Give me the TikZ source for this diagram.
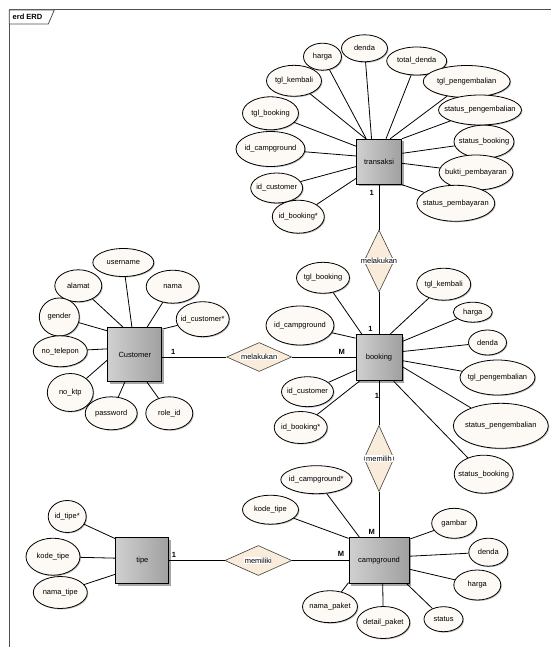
\documentclass[tikz,border=0pt]{standalone}
\usepackage{fontspec}
\setmainfont{Liberation Sans}
\usetikzlibrary{shapes.geometric,shadows}

\definecolor{attrfill}{RGB}{253,249,244}
\definecolor{relfill}{RGB}{250,236,218}
\definecolor{entleft}{RGB}{208,208,208}
\definecolor{entright}{RGB}{160,160,160}
\definecolor{framegray}{RGB}{80,80,80}

\newcommand{\ctext}[1]{\makebox[0pt][c]{#1}}
\newcommand{\rtext}[1]{\makebox[0pt][c]{\setlength{\fboxsep}{0.6pt}\colorbox{white}{#1}}}

\tikzset{
  attr/.style 2 args={ellipse, draw=black, line width=0.8pt, fill=attrfill, inner sep=0pt,
    minimum width=#1pt, minimum height=#2pt,
    general shadow={fill=black!25, shadow xshift=1pt, shadow yshift=-1pt}},
  ent/.style 2 args={rectangle, draw=black, line width=0.9pt, left color=entleft, right color=entright,
    inner sep=0pt, minimum width=#1pt, minimum height=#2pt,
    general shadow={fill=black!35, shadow xshift=2pt, shadow yshift=-2pt}},
  rel/.style 2 args={diamond, draw=black!75, line width=0.6pt, fill=relfill, inner sep=0pt,
    minimum width=#1pt, minimum height=#2pt},
  card/.style={font=\fontsize{7.5}{9}\selectfont\bfseries, inner sep=0pt},
  link/.style={line width=0.8pt}
}

\begin{document}
\begin{tikzpicture}[x=1pt, y=-1pt, font=\fontsize{7.5}{9}\selectfont]
  \useasboundingbox (0,0) rectangle (551,647);

  % frame
  \draw[framegray, line width=1pt] (9.3,647) -- (9.3,10) -- (551,10);
  \draw[framegray, fill=white, line width=0.8pt] (9.3,10) -- (54.3,10) -- (48.3,24) -- (9.3,24) -- cycle;
  \node[font=\fontsize{7.5}{9}\selectfont\bfseries, anchor=west, inner sep=0pt] (frametitle) at (12.5,17) {erd ERD};

  % entities
  \node[ent={45}{45}] (trans)   at (379,161.7) {transaksi};
  \node[ent={46}{46}] (booking) at (379,357.8) {booking};
  \node[ent={54}{54}] (cust)    at (134.8,354.7) {Customer};
  \node[ent={60}{46}] (camp)    at (379,560.5) {campground};
  \node[ent={53}{46}] (tipe)    at (142.3,560.5) {tipe};

  % relationships
  \node[rel={30}{62}] (rel_tb) at (379,261)   {\rtext{melakukan}};
  \node[rel={65}{29}] (rel_cb) at (259.2,357) {\rtext{melakukan}};
  \node[rel={30}{66}] (rel_bc) at (379,458.5) {\rtext{memilih}};
  \node[rel={67}{30}] (rel_tc) at (258.3,560.5) {\rtext{memiliki}};

  \draw[link] (trans) -- (rel_tb);
  \draw[link] (rel_tb) -- (booking);
  \draw[link] (booking) -- (rel_bc);
  \draw[link] (rel_bc) -- (camp);
  \draw[link] (rel_cb.west) -- (rel_cb.west -| cust.east);
  \draw[link] (rel_cb.east) -- (rel_cb.east -| booking.west);
  \draw[link] (tipe) -- (rel_tc);
  \draw[link] (rel_tc) -- (camp);

  % cardinalities
  \node[card] (c_trans)   at (371.7,192.7) {1};
  \node[card] (c_book_t)  at (370.5,329)   {1};
  \node[card] (c_book_c)  at (341.7,351.7) {M};
  \node[card] (c_book_b)  at (377,395.7)   {1};
  \node[card] (c_cust)    at (173.3,351.7) {1};
  \node[card] (c_camp_t)  at (371.7,532.3) {M};
  \node[card] (c_camp_l)  at (341,554.3)   {M};
  \node[card] (c_tipe)    at (174,555)     {1};

  % transaksi attributes
  \node[attr={38}{27}] (t_harga)   at (322.5,56.7)  {\ctext{harga}};
  \node[attr={46}{27}] (t_denda)   at (364.5,48.3)  {\ctext{denda}};
  \node[attr={60}{28}] (t_totden)  at (416.7,61)    {\ctext{total\_denda}};
  \node[attr={55}{31}] (t_tglkem)  at (294,80.8)    {\ctext{tgl\_kembali}};
  \node[attr={87}{32}] (t_tglpen)  at (466.7,81.5)  {\ctext{tgl\_pengembalian}};
  \node[attr={56}{33}] (t_tglbook) at (270.5,113.3) {\ctext{tgl\_booking}};
  \node[attr={83}{30}] (t_stpen)   at (480,110)     {\ctext{status\_pengembalian}};
  \node[attr={69}{35}] (t_idcamp)  at (270.5,149)   {\ctext{id\_campground}};
  \node[attr={60}{33}] (t_stbook)  at (484,141.7)   {\ctext{status\_booking}};
  \node[attr={52}{30}] (t_idcust)  at (276.7,188)   {\ctext{id\_customer}};
  \node[attr={74}{35}] (t_bukti)   at (476,172.5)   {\ctext{bukti\_pembayaran}};
  \node[attr={52}{33}] (t_idbook)  at (298.3,216.7) {\ctext{id\_booking*}};
  \node[attr={78}{36}] (t_stbayar) at (455.8,203.3) {\ctext{status\_pembayaran}};

  \draw[link] (t_harga) -- (trans.119);
  \draw[link] (t_denda) -- (trans.108);
  \draw[link] (t_totden) -- (trans.73);
  \draw[link] (t_tglkem) -- (trans.120);
  \draw[link] (t_tglpen) -- (trans.64);
  \draw[link] (t_tglbook) -- (trans.146);
  \draw[link] (t_stpen) -- (trans.north east);
  \draw[link] (t_idcamp) -- (trans.166);
  \draw[link] (t_stbook) -- (trans.20);
  \draw[link] (t_idcust) -- (trans.192);
  \draw[link] (t_bukti) -- (trans.-4);
  \draw[link] (t_idbook) -- (trans.216);
  \draw[link] (t_stbayar) -- (trans.south east);

  % booking attributes
  \node[attr={53}{31}] (b_tglbook) at (323,277.8)   {\ctext{tgl\_booking}};
  \node[attr={54}{32}] (b_tglkem)  at (443.7,284.2) {\ctext{tgl\_kembali}};
  \node[attr={68}{39}] (b_idcamp)  at (300,325.5)   {\ctext{id\_campground}};
  \node[attr={39}{20}] (b_harga)   at (472.8,312.2) {\ctext{harga}};
  \node[attr={38}{25}] (b_denda)   at (487.5,342.5) {\ctext{denda}};
  \node[attr={52}{30}] (b_idcust)  at (307.5,391.7) {\ctext{id\_customer}};
  \node[attr={75}{35}] (b_tglpen)  at (497.5,377.5) {\ctext{tgl\_pengembalian}};
  \node[attr={53}{32}] (b_idbook)  at (300.7,427.5) {\ctext{id\_booking*}};
  \node[attr={95}{45}] (b_stpen)   at (500.8,425.8) {\ctext{status\_pengembalian}};
  \node[attr={59}{38}] (b_stbook)  at (483.7,474.2) {\ctext{status\_booking}};

  \draw[link] (b_tglbook) -- (booking.126);
  \draw[link] (b_tglkem) -- (booking.65);
  \draw[link] (b_idcamp) -- (booking.140);
  \draw[link] (b_harga) -- (booking.35);
  \draw[link] (b_denda) -- (booking.15);
  \draw[link] (b_idcust) -- (booking.208);
  \draw[link] (b_tglpen) -- (booking.-7);
  \draw[link] (b_idbook) -- (booking.230);
  \draw[link] (b_stpen) -- (booking.-21);
  \draw[link] (b_stbook) -- (booking.-58);

  % customer attributes
  \node[attr={61}{28}] (c_user)   at (123.3,262.5) {\ctext{username}};
  \node[attr={47}{32}] (c_alamat) at (78.3,285.8)  {\ctext{alamat}};
  \node[attr={53}{33}] (c_nama)   at (172.7,286.7) {\ctext{nama}};
  \node[attr={40}{38}] (c_gender) at (59.3,317)    {\ctext{gender}};
  \node[attr={53}{35}] (c_idcust) at (202.7,319.2) {\ctext{id\_customer*}};
  \node[attr={54}{31}] (c_notel)  at (60.3,351.3)  {\ctext{no\_telepon}};
  \node[attr={46}{38}] (c_noktp)  at (70.3,392.5)  {\ctext{no\_ktp}};
  \node[attr={52}{33}] (c_pass)   at (111.2,413.3) {\ctext{password}};
  \node[attr={47}{33}] (c_role)   at (169.3,413.3) {\ctext{role\_id}};

  \draw[link] (c_user) -- (cust.96);
  \draw[link] (c_alamat) -- (cust.113);
  \draw[link] (c_nama) -- (cust.66);
  \draw[link] (c_gender) -- (cust.139);
  \draw[link] (c_idcust) -- (cust.43);
  \draw[link] (c_notel) -- (cust.168);
  \draw[link] (c_noktp) -- (cust.191);
  \draw[link] (c_pass) -- (cust.250);
  \draw[link] (c_role) -- (cust.-66);

  % campground attributes
  \node[attr={71}{28}] (g_idcamp) at (316.3,479.7) {\ctext{id\_campground*}};
  \node[attr={56}{29}] (g_kode)   at (270.5,509.7) {\ctext{kode\_tipe}};
  \node[attr={45}{30}] (g_gambar) at (454.2,523.3) {\ctext{gambar}};
  \node[attr={39}{28}] (g_denda)  at (488.3,552.2) {\ctext{denda}};
  \node[attr={47}{30}] (g_harga)  at (477.3,585)   {\ctext{harga}};
  \node[attr={39}{25}] (g_status) at (443.5,619.2) {\ctext{status}};
  \node[attr={53}{32}] (g_detail) at (383.3,622.5) {\ctext{detail\_paket}};
  \node[attr={55}{32}] (g_nama)   at (330,606.7)   {\ctext{nama\_paket}};

  \draw[link] (g_idcamp) -- (camp.130);
  \draw[link] (g_kode) -- (camp.144);
  \draw[link] (g_gambar) -- (camp.35);
  \draw[link] (g_denda) -- (camp.8);
  \draw[link] (g_harga) -- (camp.-16);
  \draw[link] (g_status) -- (camp.-40);
  \draw[link] (g_detail) -- (camp.-81);
  \draw[link] (g_nama) -- (camp.216);

  % tipe attributes
  \node[attr={38}{32}] (p_idtipe) at (67.2,516.5) {\ctext{id\_tipe*}};
  \node[attr={54}{37}] (p_kode)   at (53,556.7)   {\ctext{kode\_tipe}};
  \node[attr={54}{32}] (p_nama)   at (60.3,592.5) {\ctext{nama\_tipe}};

  \draw[link] (p_idtipe) -- (tipe.141);
  \draw[link] (p_kode) -- (tipe.175);
  \draw[link] (p_nama) -- (tipe.207);
\end{tikzpicture}
\end{document}
